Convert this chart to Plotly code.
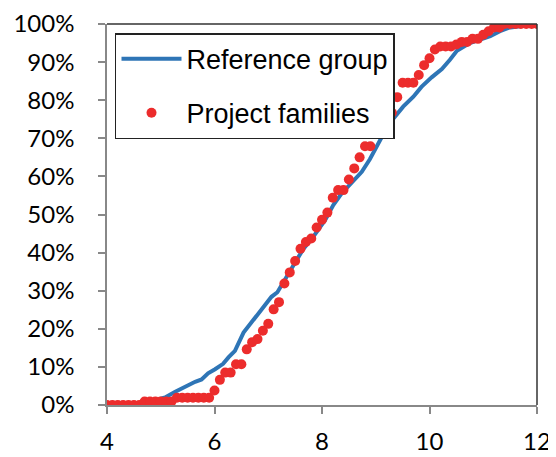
import plotly.graph_objects as go

# Reference group (cumulative %, blue line)
ref_x = [4.0, 4.5, 4.7, 5.0, 5.08, 5.27, 5.45, 5.64, 5.76, 5.88, 6.01, 6.16, 6.26, 6.38,
         6.54, 6.72, 6.91, 7.06, 7.17, 7.28, 7.47, 7.65, 7.84, 8.06, 8.21, 8.37, 8.55,
         8.74, 8.89, 9.05, 9.20, 9.33, 9.51, 9.70, 9.85, 10.04, 10.23, 10.38, 10.51,
         10.75, 10.94, 11.13, 11.31, 11.47, 11.68, 12.0]
ref_y = [0.0, 0.0, 0.5, 1.5, 2.0, 3.5, 4.8, 6.1, 6.7, 8.3, 9.4, 10.8, 12.5, 14.2,
         19.0, 22.3, 25.8, 28.4, 29.6, 32.4, 36.7, 40.9, 44.2, 48.6, 52.5, 55.6, 58.2,
         61.2, 64.5, 68.7, 72.6, 75.2, 78.3, 80.9, 83.5, 86.0, 88.2, 90.6, 93.0,
         95.0, 95.9, 96.8, 98.1, 99.0, 99.4, 100.0]

# Project families (cumulative %, red dots) at x = 4.0, 4.1, ..., 12.0
proj_x = [round(4.0 + 0.1 * i, 1) for i in range(81)]
proj_y = [0, 0, 0, 0, 0, 0, 0,                      # 4.0-4.6
          0.9, 0.9, 0.9, 0.9, 0.9, 0.9,             # 4.7-5.2
          1.9, 1.9, 1.9, 1.9, 1.9, 1.9, 1.9,        # 5.3-5.9
          3.8, 6.6, 8.5, 8.5, 10.7, 10.7, 14.6, 16.5, 17.3, 19.5,   # 6.0-6.9
          21.3, 25.1, 27.0, 31.9, 34.8, 37.8, 41.0, 42.8, 43.7, 46.6,  # 7.0-7.9
          48.6, 50.5, 54.4, 56.4, 56.4, 59.2, 62.1, 65.0, 67.9, 67.9,  # 8.0-8.9
          72.6, 75.0, 76.7, 76.7, 80.8, 84.6, 84.6, 84.6, 86.6, 89.2,  # 9.0-9.9
          91.0, 93.3, 94.1, 94.1, 94.1, 94.6, 95.3, 95.3, 96.1, 96.1,  # 10.0-10.9
          97.2, 98.1, 99.1, 99.1, 100, 100, 100, 100, 100, 100,        # 11.0-11.9
          100]                                                         # 12.0

x_ticks = [4, 6, 8, 10, 12]
x_labels = ["4", "6", "8", "10", "12"]
y_ticks = [0, 10, 20, 30, 40, 50, 60, 70, 80, 90, 100]
y_labels = ["0%", "10%", "20%", "30%", "40%", "50%", "60%", "70%", "80%", "90%", "100%"]

fig = go.Figure()
fig.add_trace(go.Scatter(x=ref_x, y=ref_y, mode="lines", name="Reference group",
                         legendgroup="a",
                         line=dict(color="#2E75B6", width=4)))
fig.add_trace(go.Scatter(x=proj_x, y=proj_y, mode="markers", name="Project families",
                         legendgroup="b",
                         marker=dict(color="#EC2C2C", size=10)))

axis_col = "#888888"
fig.update_layout(
    width=548, height=449,
    margin=dict(l=99, r=19, t=16, b=52, autoexpand=False),
    paper_bgcolor="white", plot_bgcolor="white",
    showlegend=True,
    legend=dict(x=0.0186, y=0.976, xanchor="left", yanchor="top",
                bgcolor="white", bordercolor="#222222", borderwidth=1.5,
                font=dict(family="Liberation Sans, Arial", size=27, color="black"),
                traceorder="grouped", tracegroupgap=16, itemwidth=60),
    xaxis=dict(range=[4, 12], tickvals=x_ticks, ticktext=x_labels, showgrid=False,
               zeroline=False, automargin=False,
               showline=True, linecolor=axis_col, linewidth=1.5,
               ticks="outside", ticklen=7, tickcolor=axis_col, tickwidth=1.5,
               ticklabelstandoff=7,
               tickfont=dict(family="Lato", size=24, color="black")),
    yaxis=dict(range=[0, 100], tickvals=y_ticks, ticktext=y_labels, showgrid=False,
               zeroline=False, automargin=False,
               showline=True, linecolor=axis_col, linewidth=1.5,
               ticks="outside", ticklen=7, tickcolor=axis_col, tickwidth=1.5,
               ticklabelstandoff=19,
               tickfont=dict(family="Lato", size=24, color="black")),
    shapes=[
        dict(type="line", xref="paper", yref="paper", x0=0, x1=1, y0=1, y1=1,
             line=dict(color="#333333", width=1.5)),
        dict(type="line", xref="paper", yref="paper", x0=1, x1=1, y0=0, y1=1,
             line=dict(color="#333333", width=1.5)),
    ],
)

fig.write_html("out.html")
